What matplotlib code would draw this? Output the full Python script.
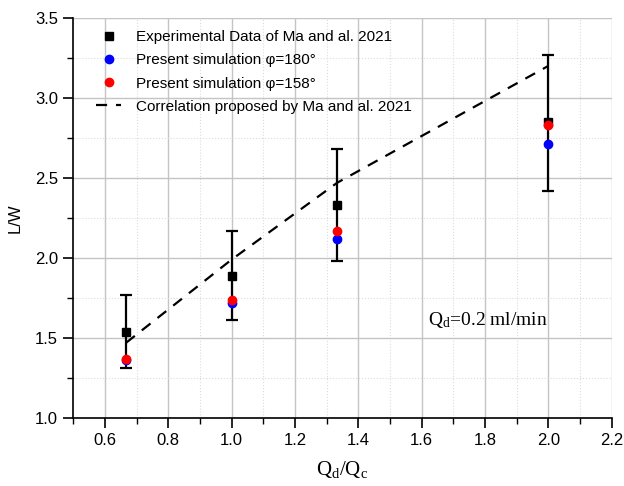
import numpy as np
import matplotlib
matplotlib.use("Agg")
import matplotlib.pyplot as plt
from matplotlib.ticker import MultipleLocator, FormatStrFormatter

plt.rcParams['font.family'] = ['Liberation Sans', 'DejaVu Sans']

# ---------------------------------------------------------------------------
# Data
# ---------------------------------------------------------------------------
qratio = [2 / 3, 1.0, 4 / 3, 2.0]

exp_lw = [1.54, 1.89, 2.33, 2.85]
exp_lo = [1.31, 1.61, 1.98, 2.42]
exp_hi = [1.77, 2.17, 2.68, 3.27]

sim180 = [1.36, 1.72, 2.12, 2.71]
sim158 = [1.37, 1.74, 2.17, 2.83]

corr_x = [2 / 3, 1.0, 4 / 3, 2.0]
corr_y = [1.47, 1.99, 2.47, 3.20]

# ---------------------------------------------------------------------------
# Figure
# ---------------------------------------------------------------------------
fig = plt.figure(figsize=(6.24, 4.86), dpi=100)
ax = fig.add_axes([0.1175, 0.140, 0.8625, 0.823])

yerr = [np.array(exp_lw) - np.array(exp_lo), np.array(exp_hi) - np.array(exp_lw)]
ax.errorbar(qratio, exp_lw, yerr=yerr, fmt="none", ecolor="black",
            elinewidth=1.6, capsize=4.5, capthick=1.6, zorder=3)
ax.plot(qratio, exp_lw, "s", color="black", ms=6, ls="none", zorder=4,
        label="Experimental Data of Ma and al. 2021")
ax.plot(qratio, sim180, "o", color="#0000ff", ms=6, ls="none", zorder=5,
        label="Present simulation \u03c6=180\u00b0")
ax.plot(qratio, sim158, "o", color="#ff0000", ms=6, ls="none", zorder=6,
        label="Present simulation \u03c6=158\u00b0")
ax.plot(corr_x, corr_y, color="black", ls=(0, (5, 4)), lw=1.6, zorder=3,
        label="Correlation proposed by Ma and al. 2021")

ax.text(1.62, 1.61, r"$\mathregular{Q_d}$=0.2 ml/min", family="Liberation Serif",
        fontsize=14, va="center", ha="left")

# -- Axes --------------------------------------------------------------------
ax.set_xlim(0.5, 2.2)
ax.set_ylim(1.0, 3.5)
ax.xaxis.set_major_locator(MultipleLocator(0.2))
ax.xaxis.set_minor_locator(MultipleLocator(0.1))
ax.yaxis.set_major_locator(MultipleLocator(0.5))
ax.yaxis.set_minor_locator(MultipleLocator(0.25))
ax.xaxis.set_major_formatter(FormatStrFormatter("%.1f"))
ax.yaxis.set_major_formatter(FormatStrFormatter("%.1f"))

ax.grid(True, which="major", color="#c4c4c4", lw=1.0)
ax.grid(True, which="minor", color="#dcdcdc", lw=0.8, ls=":")
ax.set_axisbelow(True)

for s in ("top", "right"):
    ax.spines[s].set_visible(False)
for s in ("left", "bottom"):
    ax.spines[s].set_linewidth(1.2)

ax.tick_params(which="major", direction="out", length=7, width=1.2,
               labelsize=12, colors="black", pad=4)
ax.tick_params(which="minor", direction="out", length=4, width=1.0)

ax.set_ylabel("L/W", fontsize=12, labelpad=9)
ax.set_xlabel(r"$\mathregular{Q_d/Q_c}$", family="Liberation Serif",
              fontsize=15, labelpad=8)

ax.legend(loc="upper left", bbox_to_anchor=(0.02, 1.0), frameon=False,
          fontsize=11, handlelength=1.6, handletextpad=1.0,
          labelspacing=0.6, borderaxespad=0.4)

fig.savefig("out.png", dpi=100)
